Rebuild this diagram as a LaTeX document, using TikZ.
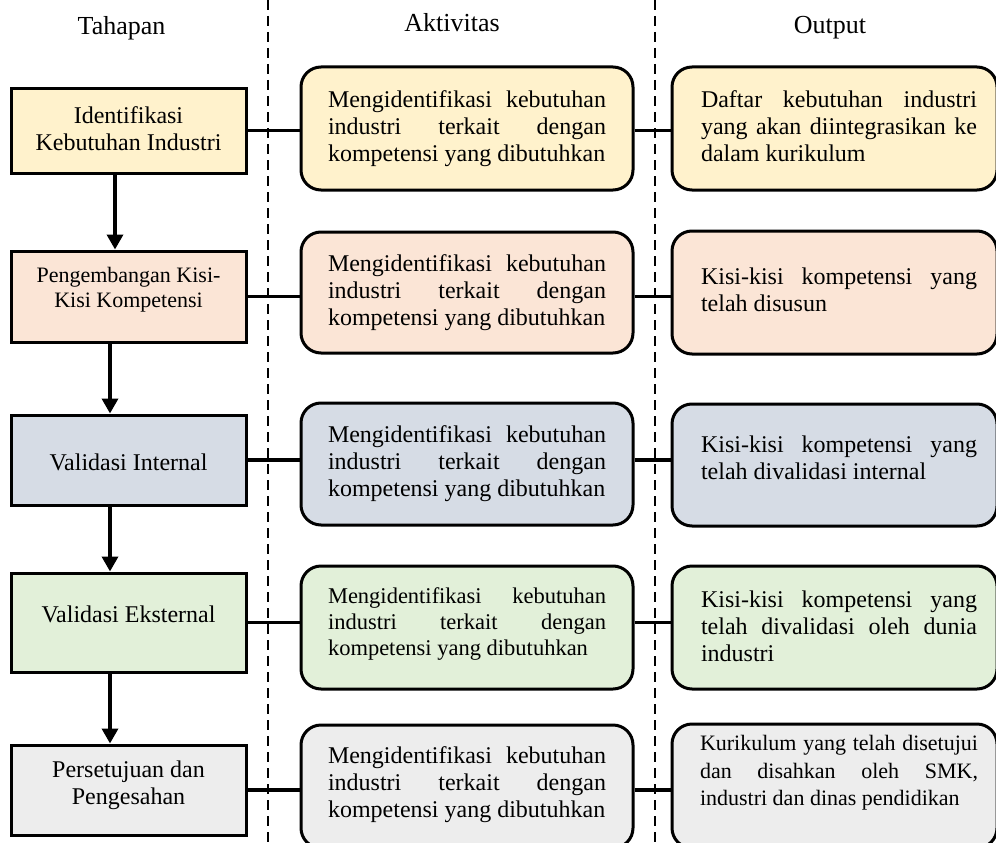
\documentclass[tikz,border=0pt]{standalone}
\usepackage{fontspec}
\setmainfont{Liberation Serif}
\usetikzlibrary{arrows.meta}

\definecolor{fillYellow}{HTML}{FFF2CC}
\definecolor{fillPeach}{HTML}{FBE5D6}
\definecolor{fillBlue}{HTML}{D6DCE5}
\definecolor{fillGreen}{HTML}{E2F0D9}
\definecolor{fillGray}{HTML}{EDEDED}

\begin{document}
\begin{tikzpicture}[x=1pt,y=-1pt,
  stagebox/.style={draw, line width=3pt, inner sep=0pt, minimum width=235pt},
  roundbox/.style={draw, line width=3pt, inner sep=0pt, rounded corners=20pt},
  actbox/.style={roundbox, minimum width=332pt},
  outbox/.style={roundbox, minimum width=325pt},
  stagetext/.style={inner sep=0pt, align=center, font=\fontsize{24}{27}\selectfont},
  bodytext/.style={inner sep=0pt, text width=278pt, align=justify, font=\fontsize{24}{27}\selectfont},
  headtext/.style={inner sep=0pt, anchor=base, font=\fontsize{26}{30}\selectfont},
  link/.style={line width=3.5pt},
  flow/.style={line width=3.5pt, -{Triangle[width=16pt,length=15pt]}},
  divider/.style={line width=2.5pt, dash pattern=on 10pt off 6pt}
]
\useasboundingbox (0,0) rectangle (996,843);

% column dividers
\draw[divider] (268,0) -- (268,843);
\draw[divider] (655,0) -- (655,843);

% column headings
\node[headtext] (hTahapan) at (121.5,35) {Tahapan};
\node[headtext] (hAktivitas) at (452,32) {Aktivitas};
\node[headtext] (hOutput) at (830,34) {Output};

% stage boxes
\node[stagebox, fill=fillYellow, minimum height=85pt] (L1) at (128.5,130.5) {};
\node[stagebox, fill=fillPeach,  minimum height=91pt] (L2) at (128.5,296.5) {};
\node[stagebox, fill=fillBlue,   minimum height=90pt] (L3) at (128.5,460) {};
\node[stagebox, fill=fillGreen,  minimum height=99pt] (L4) at (128.5,622.5) {};
\node[stagebox, fill=fillGray,   minimum height=90pt] (L5) at (128.5,790) {};

% activity boxes
\node[actbox, fill=fillYellow, minimum height=123pt] (M1) at (467,128.5) {};
\node[actbox, fill=fillPeach,  minimum height=121pt] (M2) at (467,292.5) {};
\node[actbox, fill=fillBlue,   minimum height=122pt] (M3) at (467,464) {};
\node[actbox, fill=fillGreen,  minimum height=123pt] (M4) at (467,627.5) {};
\node[actbox, fill=fillGray,   minimum height=123pt] (M5) at (467,786.5) {};

% output boxes
\node[outbox, fill=fillYellow, minimum height=123pt] (R1) at (834.5,128.5) {};
\node[outbox, fill=fillPeach,  minimum height=123pt] (R2) at (834.5,292.5) {};
\node[outbox, fill=fillBlue,   minimum height=122pt] (R3) at (834.5,465) {};
\node[outbox, fill=fillGreen,  minimum height=123pt] (R4) at (834.5,627.5) {};
\node[outbox, fill=fillGray,   minimum height=124pt] (R5) at (834.5,786) {};

% stage labels
\node[stagetext] (tL1) at (128.5,129) {Identifikasi\\Kebutuhan Industri};
\node[stagetext, font=\fontsize{22}{25}\selectfont] (tL2) at (128.5,290) {Pengembangan Kisi-\\Kisi Kompetensi};
\node[stagetext] (tL3) at (128.5,462) {Validasi Internal};
\node[stagetext] (tL4) at (128.5,614) {Validasi Eksternal};
\node[stagetext] (tL5) at (128.5,785.5) {Persetujuan dan\\Pengesahan};

% activity texts
\node[bodytext] (tM1) at (467,129) {Mengidentifikasi kebutuhan\linebreak industri terkait dengan\linebreak kompetensi yang dibutuhkan};
\node[bodytext] (tM2) at (467,293) {Mengidentifikasi kebutuhan\linebreak industri terkait dengan\linebreak kompetensi yang dibutuhkan};
\node[bodytext] (tM3) at (467,464) {Mengidentifikasi kebutuhan\linebreak industri terkait dengan\linebreak kompetensi yang dibutuhkan};
\node[bodytext, font=\fontsize{22.5}{26}\selectfont] (tM4) at (467,624) {Mengidentifikasi kebutuhan\linebreak industri terkait dengan\linebreak kompetensi yang dibutuhkan};
\node[bodytext] (tM5) at (467,785) {Mengidentifikasi kebutuhan\linebreak industri terkait dengan\linebreak kompetensi yang dibutuhkan};

% output texts
\node[bodytext, text width=276pt] (tR1) at (839,126) {Daftar kebutuhan industri\linebreak yang akan diintegrasikan ke\linebreak dalam kurikulum};
\node[bodytext, text width=276pt] (tR2) at (839,290) {Kisi-kisi kompetensi yang\linebreak telah disusun};
\node[bodytext, text width=276pt] (tR3) at (839,458) {Kisi-kisi kompetensi yang\linebreak telah divalidasi internal};
\node[bodytext, text width=276pt] (tR4) at (839,626) {Kisi-kisi kompetensi yang\linebreak telah divalidasi oleh dunia\linebreak industri};
\node[bodytext, font=\fontsize{22}{27.5}\selectfont] (tR5) at (839,773) {Kurikulum yang telah disetujui\linebreak dan disahkan oleh SMK,\linebreak industri dan dinas pendidikan};

% row connectors
\foreach \i in {1,...,5}{
  \draw[link] (L\i.east) -- (L\i.east -| M\i.west);
  \draw[link] (L\i.east -| M\i.east) -- (L\i.east -| R\i.west);
}

% flow between stages
\draw[flow] ([xshift=-13.5pt]L1.south) -- ([xshift=-13.5pt]L1.south |- L2.north);
\draw[flow] ([xshift=-18.5pt]L2.south) -- ([xshift=-18.5pt]L2.south |- L3.north);
\draw[flow] ([xshift=-18.5pt]L3.south) -- ([xshift=-18.5pt]L3.south |- L4.north);
\draw[flow] ([xshift=-18.5pt]L4.south) -- ([xshift=-18.5pt]L4.south |- L5.north);
\end{tikzpicture}
\end{document}
